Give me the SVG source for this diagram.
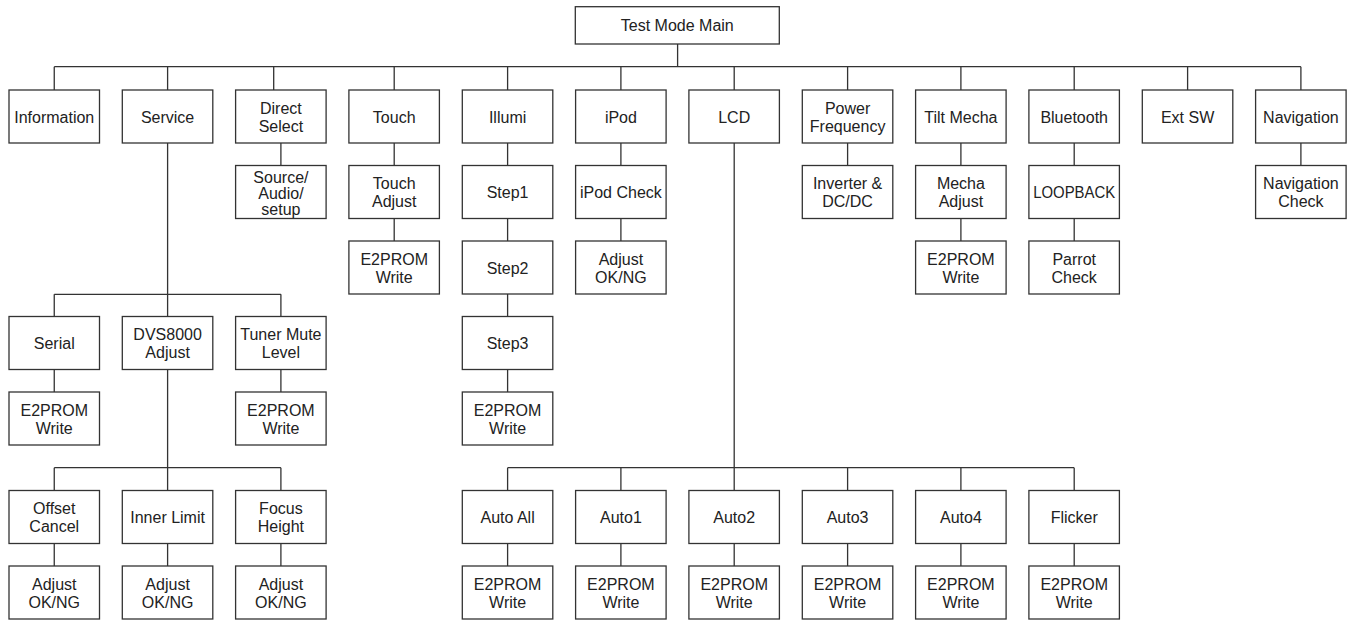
<svg xmlns="http://www.w3.org/2000/svg" width="1350" height="620" viewBox="0 0 1350 620">
<style>
.b{fill:#fff;stroke:#333;stroke-width:1.3}
.c{fill:none;stroke:#333;stroke-width:1.3}
text{font-family:"Liberation Sans",Arial,Helvetica,sans-serif;font-size:16px;fill:#222;text-anchor:middle}
</style>
<rect width="1350" height="620" fill="#fff"/>
<g id="connectors">
<path class="c" d="M677.6,44V66.7M54.25,66.7H1300.9M54.25,66.7V90M167.6,66.7V90M273.7,66.7V90M394.2,66.7V90M507.6,66.7V90M620.9,66.7V90M734.2,66.7V90M847.6,66.7V90M960.9,66.7V90M1074.2,66.7V90M1187.6,66.7V90M1300.9,66.7V90"/>
<path class="c" d="M167.6,143V294.3M54.25,294.3H280.9M54.25,294.3V316.5M167.6,294.3V316.5M280.9,294.3V316.5M54.25,369.5V392M280.9,369.5V392M167.6,369.5V467.7M54.25,467.7H280.9M54.25,467.7V490.5M167.6,467.7V490.5M280.9,467.7V490.5M54.25,543.5V566M167.6,543.5V566M280.9,543.5V566"/>
<path class="c" d="M280.9,143V165.5M394.2,143V165.5M394.2,218.5V241M507.6,143V165.5M507.6,218.5V241M507.6,294V316.5M507.6,369.5V392M620.9,143V165.5M620.9,218.5V241M847.6,143V165.5M960.9,143V165.5M960.9,218.5V241M1074.2,143V165.5M1074.2,218.5V241M1300.9,143V165.5"/>
<path class="c" d="M734.2,143V467.7M507.6,467.7H1074.2M507.6,467.7V490.5M620.9,467.7V490.5M734.2,467.7V490.5M847.6,467.7V490.5M960.9,467.7V490.5M1074.2,467.7V490.5M507.6,543.5V566M620.9,543.5V566M734.2,543.5V566M847.6,543.5V566M960.9,543.5V566M1074.2,543.5V566"/>
</g>
<g id="main"><rect class="b" x="575.3" y="6.7" width="204" height="37.3"/><text x="677.3" y="31.3">Test Mode Main</text></g>
<g id="information"><rect class="b" x="9" y="90" width="90.5" height="53"/><text x="54.25" y="122.5">Information</text></g>
<g id="service"><rect class="b" x="122.3" y="90" width="90.5" height="53"/><text x="167.6" y="122.5">Service</text></g>
<g id="direct-select"><rect class="b" x="235.6" y="90" width="90.5" height="53"/><text x="280.9" y="113.5">Direct</text><text x="280.9" y="131.5">Select</text></g>
<g id="touch"><rect class="b" x="348.9" y="90" width="90.5" height="53"/><text x="394.2" y="122.5">Touch</text></g>
<g id="illumi"><rect class="b" x="462.3" y="90" width="90.5" height="53"/><text x="507.6" y="122.5">Illumi</text></g>
<g id="ipod"><rect class="b" x="575.6" y="90" width="90.5" height="53"/><text x="620.9" y="122.5">iPod</text></g>
<g id="lcd"><rect class="b" x="688.9" y="90" width="90.5" height="53"/><text x="734.2" y="122.5">LCD</text></g>
<g id="power-frequency"><rect class="b" x="802.3" y="90" width="90.5" height="53"/><text x="847.6" y="113.5">Power</text><text x="847.6" y="131.5">Frequency</text></g>
<g id="tilt-mecha"><rect class="b" x="915.6" y="90" width="90.5" height="53"/><text x="960.9" y="122.5">Tilt Mecha</text></g>
<g id="bluetooth"><rect class="b" x="1028.9" y="90" width="90.5" height="53"/><text x="1074.2" y="122.5">Bluetooth</text></g>
<g id="ext-sw"><rect class="b" x="1142.3" y="90" width="90.5" height="53"/><text x="1187.6" y="122.5">Ext SW</text></g>
<g id="navigation"><rect class="b" x="1255.6" y="90" width="90.5" height="53"/><text x="1300.9" y="122.5">Navigation</text></g>
<g id="source-audio-setup"><rect class="b" x="235.6" y="165.5" width="90.5" height="53"/><text x="280.9" y="182.5">Source/</text><text x="280.9" y="198.5">Audio/</text><text x="280.9" y="214.5">setup</text></g>
<g id="touch-adjust"><rect class="b" x="348.9" y="165.5" width="90.5" height="53"/><text x="394.2" y="189">Touch</text><text x="394.2" y="207">Adjust</text></g>
<g id="touch-e2prom"><rect class="b" x="348.9" y="241" width="90.5" height="53"/><text x="394.2" y="264.5">E2PROM</text><text x="394.2" y="282.5">Write</text></g>
<g id="step1"><rect class="b" x="462.3" y="165.5" width="90.5" height="53"/><text x="507.6" y="198">Step1</text></g>
<g id="step2"><rect class="b" x="462.3" y="241" width="90.5" height="53"/><text x="507.6" y="273.5">Step2</text></g>
<g id="step3"><rect class="b" x="462.3" y="316.5" width="90.5" height="53"/><text x="507.6" y="349">Step3</text></g>
<g id="illumi-e2prom"><rect class="b" x="462.3" y="392" width="90.5" height="53"/><text x="507.6" y="415.5">E2PROM</text><text x="507.6" y="433.5">Write</text></g>
<g id="ipod-check"><rect class="b" x="575.6" y="165.5" width="90.5" height="53"/><text x="620.9" y="198">iPod Check</text></g>
<g id="ipod-adjust"><rect class="b" x="575.6" y="241" width="90.5" height="53"/><text x="620.9" y="264.5">Adjust</text><text x="620.9" y="282.5">OK/NG</text></g>
<g id="inverter"><rect class="b" x="802.3" y="165.5" width="90.5" height="53"/><text x="847.6" y="189">Inverter &amp;</text><text x="847.6" y="207">DC/DC</text></g>
<g id="mecha-adjust"><rect class="b" x="915.6" y="165.5" width="90.5" height="53"/><text x="960.9" y="189">Mecha</text><text x="960.9" y="207">Adjust</text></g>
<g id="tilt-e2prom"><rect class="b" x="915.6" y="241" width="90.5" height="53"/><text x="960.9" y="264.5">E2PROM</text><text x="960.9" y="282.5">Write</text></g>
<g id="loopback"><rect class="b" x="1028.9" y="165.5" width="90.5" height="53"/><text x="1074.2" y="198" textLength="82" lengthAdjust="spacingAndGlyphs">LOOPBACK</text></g>
<g id="parrot-check"><rect class="b" x="1028.9" y="241" width="90.5" height="53"/><text x="1074.2" y="264.5">Parrot</text><text x="1074.2" y="282.5">Check</text></g>
<g id="navigation-check"><rect class="b" x="1255.6" y="165.5" width="90.5" height="53"/><text x="1300.9" y="189">Navigation</text><text x="1300.9" y="207">Check</text></g>
<g id="serial"><rect class="b" x="9" y="316.5" width="90.5" height="53"/><text x="54.25" y="349">Serial</text></g>
<g id="dvs8000"><rect class="b" x="122.3" y="316.5" width="90.5" height="53"/><text x="167.6" y="340">DVS8000</text><text x="167.6" y="358">Adjust</text></g>
<g id="tuner-mute"><rect class="b" x="235.6" y="316.5" width="90.5" height="53"/><text x="280.9" y="340">Tuner Mute</text><text x="280.9" y="358">Level</text></g>
<g id="serial-e2prom"><rect class="b" x="9" y="392" width="90.5" height="53"/><text x="54.25" y="415.5">E2PROM</text><text x="54.25" y="433.5">Write</text></g>
<g id="tuner-e2prom"><rect class="b" x="235.6" y="392" width="90.5" height="53"/><text x="280.9" y="415.5">E2PROM</text><text x="280.9" y="433.5">Write</text></g>
<g id="offset-cancel"><rect class="b" x="9" y="490.5" width="90.5" height="53"/><text x="54.25" y="514">Offset</text><text x="54.25" y="532">Cancel</text></g>
<g id="inner-limit"><rect class="b" x="122.3" y="490.5" width="90.5" height="53"/><text x="167.6" y="523">Inner Limit</text></g>
<g id="focus-height"><rect class="b" x="235.6" y="490.5" width="90.5" height="53"/><text x="280.9" y="514">Focus</text><text x="280.9" y="532">Height</text></g>
<g id="offset-adjust"><rect class="b" x="9" y="566" width="90.5" height="53"/><text x="54.25" y="589.5">Adjust</text><text x="54.25" y="607.5">OK/NG</text></g>
<g id="inner-adjust"><rect class="b" x="122.3" y="566" width="90.5" height="53"/><text x="167.6" y="589.5">Adjust</text><text x="167.6" y="607.5">OK/NG</text></g>
<g id="focus-adjust"><rect class="b" x="235.6" y="566" width="90.5" height="53"/><text x="280.9" y="589.5">Adjust</text><text x="280.9" y="607.5">OK/NG</text></g>
<g id="auto-all"><rect class="b" x="462.3" y="490.5" width="90.5" height="53"/><text x="507.6" y="523">Auto All</text></g>
<g id="auto1"><rect class="b" x="575.6" y="490.5" width="90.5" height="53"/><text x="620.9" y="523">Auto1</text></g>
<g id="auto2"><rect class="b" x="688.9" y="490.5" width="90.5" height="53"/><text x="734.2" y="523">Auto2</text></g>
<g id="auto3"><rect class="b" x="802.3" y="490.5" width="90.5" height="53"/><text x="847.6" y="523">Auto3</text></g>
<g id="auto4"><rect class="b" x="915.6" y="490.5" width="90.5" height="53"/><text x="960.9" y="523">Auto4</text></g>
<g id="flicker"><rect class="b" x="1028.9" y="490.5" width="90.5" height="53"/><text x="1074.2" y="523">Flicker</text></g>
<g id="autoall-e2prom"><rect class="b" x="462.3" y="566" width="90.5" height="53"/><text x="507.6" y="589.5">E2PROM</text><text x="507.6" y="607.5">Write</text></g>
<g id="auto1-e2prom"><rect class="b" x="575.6" y="566" width="90.5" height="53"/><text x="620.9" y="589.5">E2PROM</text><text x="620.9" y="607.5">Write</text></g>
<g id="auto2-e2prom"><rect class="b" x="688.9" y="566" width="90.5" height="53"/><text x="734.2" y="589.5">E2PROM</text><text x="734.2" y="607.5">Write</text></g>
<g id="auto3-e2prom"><rect class="b" x="802.3" y="566" width="90.5" height="53"/><text x="847.6" y="589.5">E2PROM</text><text x="847.6" y="607.5">Write</text></g>
<g id="auto4-e2prom"><rect class="b" x="915.6" y="566" width="90.5" height="53"/><text x="960.9" y="589.5">E2PROM</text><text x="960.9" y="607.5">Write</text></g>
<g id="flicker-e2prom"><rect class="b" x="1028.9" y="566" width="90.5" height="53"/><text x="1074.2" y="589.5">E2PROM</text><text x="1074.2" y="607.5">Write</text></g>
</svg>
